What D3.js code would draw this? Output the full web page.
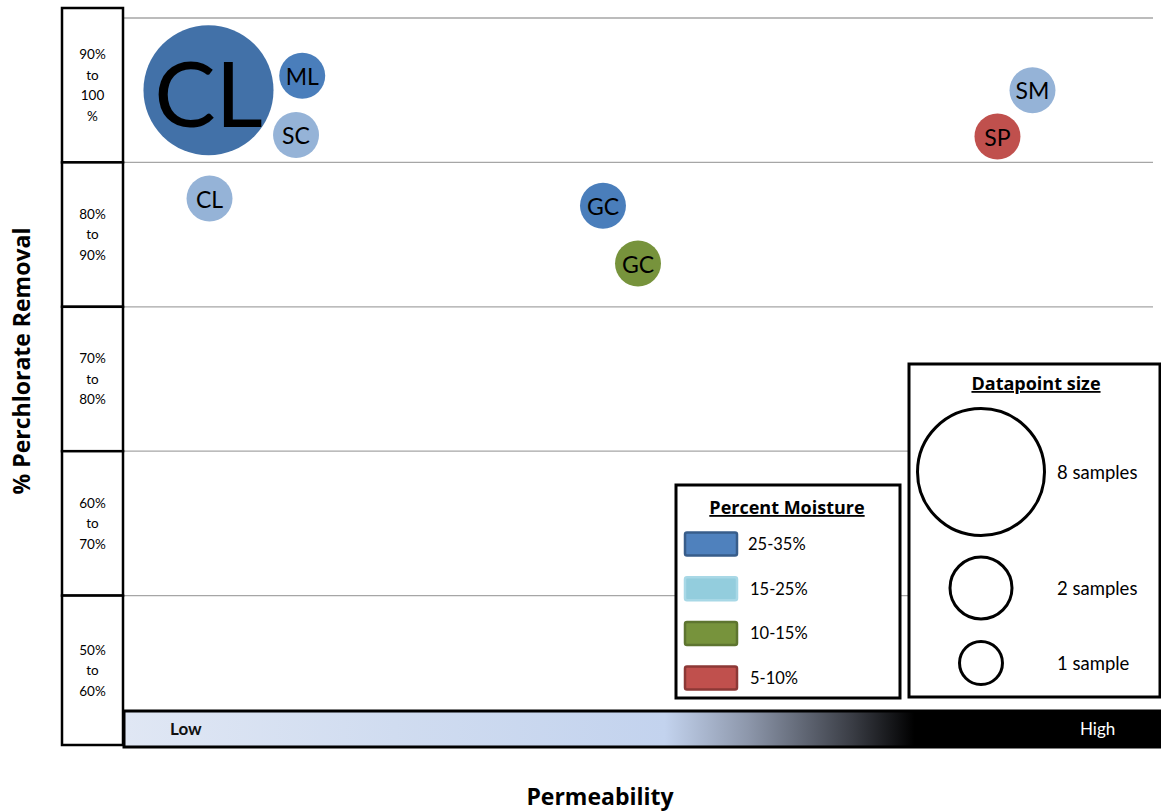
<!DOCTYPE html>
<html>
<head>
<meta charset="utf-8">
<script src="https://cdn.jsdelivr.net/npm/d3@7"></script>
<style>
  body { margin: 0; background: #fff; }
  svg { display: block; font-family: Lato, "Open Sans", sans-serif; }
  .title { font-family: "Open Sans", Lato, sans-serif; font-weight: bold; }
</style>
</head>
<body>
<svg id="chart"></svg>
<script>
// soil samples
const soilTypes = ['CL', 'ML', 'SC', 'CL', 'GC', 'GC', 'SM', 'SP'];
const permeability = [8.3, 17.4, 16.8, 8.4, 46.6, 50.0, 88.3, 84.9];
const removal = [95.0, 96.0, 91.9, 87.5, 87.0, 83.0, 95.0, 91.8];
const sampleCounts = [8, 1, 1, 1, 1, 1, 1, 1];
const moisture = ['25-35%', '25-35%', '15-25%', '15-25%', '25-35%', '10-15%', '15-25%', '5-10%'];

// legends and axis labels
const moistureClasses = ['25-35%', '15-25%', '10-15%', '5-10%'];
const sizeLegend = [8, 2, 1];
const sizeLegendLabels = ['8 samples', '2 samples', '1 sample'];
const bandEdges = [100, 90, 80, 70, 60, 50];
const bandLabels = [['90%', 'to', '100', '%'], ['80%', 'to', '90%'], ['70%', 'to', '80%'], ['60%', 'to', '70%'], ['50%', 'to', '60%']];
const permeabilityEnds = ['Low', 'High'];

class BubbleChart {

    constructor(_config, _data) {
        this.config = {
            parentElement: _config.parentElement,
            containerWidth: _config.containerWidth || 1161,
            containerHeight: _config.containerHeight || 812
        };
        this.data = _data;
        this.initVis();
    }

    initVis() {
        let vis = this;

        vis.svg = d3.select(vis.config.parentElement)
            .attr('width', vis.config.containerWidth)
            .attr('height', vis.config.containerHeight);

        vis.xScale = d3.scaleLinear()
            .domain([0, 100])
            .range([123, 1153]);

        vis.yScale = d3.scaleLinear()
            .domain([50, 100])
            .range([740, 18]);

        // area proportional to number of samples
        vis.rScale = d3.scaleSqrt()
            .domain([0, 8])
            .range([0, 65]);

        vis.labelSize = d3.scaleLinear()
            .domain([1, 8])
            .range([23, 92]);

        vis.fillScale = d3.scaleOrdinal()
            .domain(moistureClasses)
            .range(['#4a7ebb', '#95b3d7', '#77933c', '#c0504d']);

        vis.swatchFill = d3.scaleOrdinal()
            .domain(moistureClasses)
            .range(['#4f81bd', '#93cddd', '#77933c', '#c0504d']);

        vis.swatchStroke = d3.scaleOrdinal()
            .domain(moistureClasses)
            .range(['#385d8a', '#a8d8e6', '#5e7530', '#8c3836']);

        vis.renderVis();
    }

    renderVis() {
        let vis = this;

        // horizontal gridlines
        vis.svg.append('g')
            .selectAll('line')
            .data(bandEdges.slice(0, 5))
            .join('line')
                .attr('x1', vis.xScale(0))
                .attr('x2', vis.xScale(100))
                .attr('y1', d => vis.yScale(d))
                .attr('y2', d => vis.yScale(d))
                .attr('stroke', '#a6a6a6')
                .attr('stroke-width', 1.3);

        // bubbles
        const bubbles = vis.svg.append('g')
            .selectAll('g')
            .data(vis.data)
            .join('g')
                .attr('transform', d => `translate(${vis.xScale(d.permeability)},${vis.yScale(d.removal)})`);

        bubbles.append('circle')
            .attr('r', d => vis.rScale(d.samples))
            // the 8-sample bubble reads a touch darker in the picture
            .attr('fill', d => d.samples > 1 ? d3.color(vis.fillScale(d.moisture)).darker(0.3) : vis.fillScale(d.moisture));

        bubbles.append('text')
            .attr('text-anchor', 'middle')
            .attr('dy', '0.4em')
            .style('font-size', d => vis.labelSize(d.samples) + 'px')
            .attr('fill', '#000')
            .text(d => d.soil);

        // Percent Moisture legend
        const moistLeg = vis.svg.append('g')
            .attr('transform', 'translate(676,485)');

        moistLeg.append('rect')
            .attr('width', 224)
            .attr('height', 213)
            .attr('fill', '#fff')
            .attr('stroke', '#000')
            .attr('stroke-width', 3);

        moistLeg.append('text')
            .attr('class', 'title')
            .attr('x', 111)
            .attr('y', 29)
            .attr('text-anchor', 'middle')
            .style('font-size', '18px')
            .style('text-decoration', 'underline')
            .text('Percent Moisture');

        const rows = moistLeg.selectAll('.row')
            .data(moistureClasses)
            .join('g')
                .attr('class', 'row')
                .attr('transform', (d, i) => `translate(0,${59 + i * 44.7})`);

        rows.append('rect')
            .attr('x', 9)
            .attr('y', -11.5)
            .attr('width', 52)
            .attr('height', 23)
            .attr('rx', 2)
            .attr('fill', d => vis.swatchFill(d))
            .attr('stroke', d => vis.swatchStroke(d))
            .attr('stroke-width', 2.5);

        rows.append('text')
            .attr('x', (d, i) => i === 0 ? 72 : 74)
            .attr('dy', '0.36em')
            .style('font-size', '16.5px')
            .text(d => d);

        // Datapoint size legend
        const sizeLeg = vis.svg.append('g')
            .attr('transform', 'translate(909,364)');

        sizeLeg.append('rect')
            .attr('width', 251)
            .attr('height', 333)
            .attr('fill', '#fff')
            .attr('stroke', '#000')
            .attr('stroke-width', 3);

        sizeLeg.append('text')
            .attr('class', 'title')
            .attr('x', 127)
            .attr('y', 26)
            .attr('text-anchor', 'middle')
            .style('font-size', '18px')
            .style('text-decoration', 'underline')
            .text('Datapoint size');

        const sizeY = [108, 224, 299];
        const sizeRows = sizeLeg.selectAll('.size')
            .data(sizeLegend)
            .join('g')
                .attr('class', 'size')
                .attr('transform', (d, i) => `translate(0,${sizeY[i]})`);

        sizeRows.append('circle')
            .attr('cx', 72)
            .attr('r', d => vis.rScale(d) - 1.5)
            .attr('fill', 'none')
            .attr('stroke', '#000')
            .attr('stroke-width', 3);

        sizeRows.append('text')
            .attr('x', 148)
            .attr('dy', '0.36em')
            .style('font-size', '18.5px')
            .text((d, i) => sizeLegendLabels[i]);

        // permeability gradient bar
        const grad = vis.svg.append('defs')
            .append('linearGradient')
                .attr('id', 'perm-grad')
                .attr('x1', '0%').attr('x2', '100%');
        [[0, '#e0e7f4'], [0.26, '#d0dcf0'], [0.52, '#c3d3ee'], [0.6, '#8d97ab'], [0.7, '#3a3d45'], [0.76, '#000'], [1, '#000']]
            .forEach(s => grad.append('stop').attr('offset', s[0]).attr('stop-color', s[1]));

        const barTop = 711, barH = 36;
        vis.svg.append('rect')
            .attr('x', vis.xScale(0) + 1)
            .attr('y', barTop)
            .attr('width', vis.config.containerWidth - vis.xScale(0) + 2)
            .attr('height', barH)
            .attr('fill', 'url(#perm-grad)')
            .attr('stroke', '#000')
            .attr('stroke-width', 3);

        vis.svg.selectAll('.perm-end')
            .data(permeabilityEnds)
            .join('text')
                .attr('class', 'perm-end')
                .attr('x', (d, i) => i === 0 ? 170 : 1080)
                .attr('y', barTop + barH / 2)
                .attr('dy', '0.36em')
                .style('font-size', '17px')
                .style('font-weight', (d, i) => i === 0 ? 'bold' : 'normal')
                .attr('fill', (d, i) => i === 0 ? '#111' : '#fff')
                .text(d => d);

        // removal band boxes on the left
        const bands = vis.svg.append('g')
            .selectAll('g')
            .data(bandLabels)
            .join('g');

        const bandTop = i => i === 0 ? 8 : vis.yScale(bandEdges[i]);
        const bandBottom = i => i === bandLabels.length - 1 ? 745 : vis.yScale(bandEdges[i + 1]);

        bands.append('rect')
            .attr('x', 62)
            .attr('y', (d, i) => bandTop(i))
            .attr('width', 61)
            .attr('height', (d, i) => bandBottom(i) - bandTop(i))
            .attr('fill', '#fff')
            .attr('stroke', '#000')
            .attr('stroke-width', 2.5);

        bands.append('text')
            .attr('text-anchor', 'middle')
            .style('font-size', '13.5px')
            .selectAll('tspan')
            .data((d, i) => d.map((t, j) => ({t, j, n: d.length, mid: (bandTop(i) + bandBottom(i)) / 2})))
            .join('tspan')
                .attr('x', 92.5)
                .attr('y', e => e.mid + (e.j - (e.n - 1) / 2) * 20.5)
                .attr('dy', '0.36em')
                .text(e => e.t);

        // axis titles
        vis.svg.append('text')
            .attr('class', 'title')
            .attr('transform', 'translate(22,361) rotate(-90)')
            .attr('text-anchor', 'middle')
            .attr('dy', '0.36em')
            .style('font-size', '23px')
            .text('% Perchlorate Removal');

        vis.svg.append('text')
            .attr('class', 'title')
            .attr('x', 600)
            .attr('y', 797)
            .attr('text-anchor', 'middle')
            .attr('dy', '0.36em')
            .style('font-size', '23px')
            .text('Permeability');
    }
}

const points = soilTypes.map((s, i) => ({
    soil: s,
    permeability: permeability[i],
    removal: removal[i],
    samples: sampleCounts[i],
    moisture: moisture[i]
}));

new BubbleChart({ parentElement: '#chart' }, points);
</script>
</body>
</html>
